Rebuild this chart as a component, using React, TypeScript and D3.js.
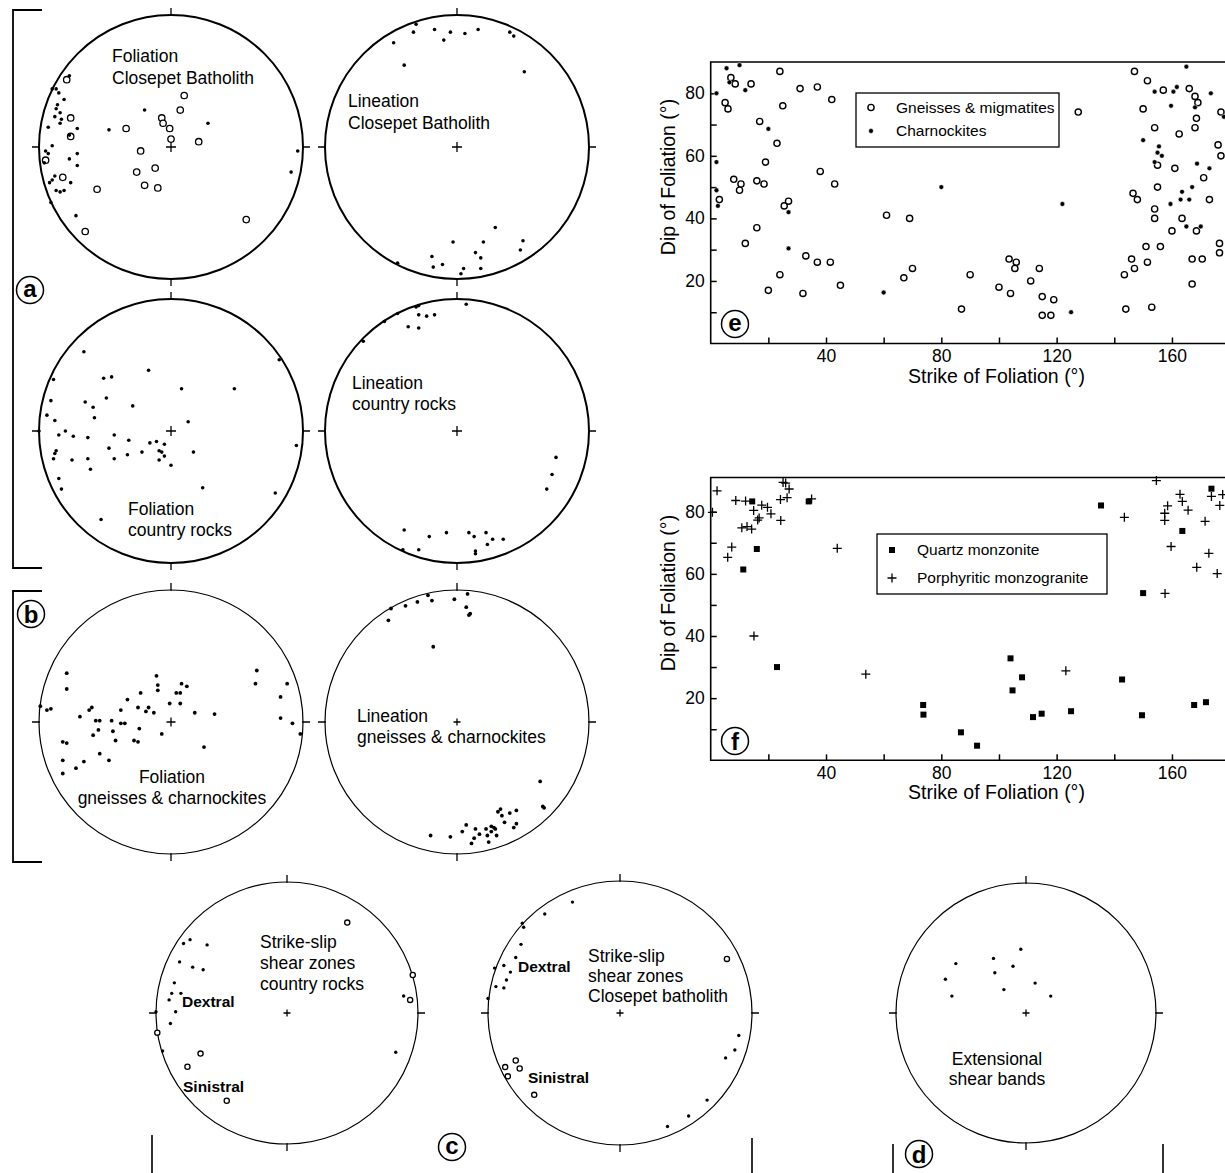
import React, { useEffect, useRef } from "react";
import * as d3 from "d3";

type Pt = [number, number];

const FONT = "'Liberation Sans', Arial, Helvetica, sans-serif";

// ---- stereonets: [east, north] of each pole in % of the primitive circle radius ----
const folClosepetOpen: Pt[] = [
  [-79, 51], [-76, 22], [-76, 8], [-95, -10], [-82, -23], [-56, -32], [-65, -64], [-34, 14], [-23, -3],
  [-26, -19], [-20, -29], [-12, -16], [-10, -31], [-7, 22], [-6, 18], [-1, 14], [0, 6], [7, 28], [10, 39],
  [21, 4], [57, -55],
];
const folClosepetDots: Pt[] = [
  [-77, 54], [-90, 44], [-87, 44], [-85, 41], [-81, 36], [-86, 32], [-87, 29], [-84, 26], [-88, 23],
  [-83, 21], [-84, 18], [-93, 15], [-71, 14], [-77, 9], [-90, 1], [-95, -3], [-93, -5], [-96, -12],
  [-71, -5], [-77, -9], [-71, -14], [-88, -22], [-92, -27], [-90, -25], [-76, -27], [-87, -33], [-84, -34],
  [-81, -33], [-91, -42], [-72, -52], [-47, 13], [-20, 28], [28, 18], [91, -19], [96, -3],
];
const linClosepet: Pt[] = [
  [-31, 93], [-33, 87], [-48, 79], [-17, 89], [-10, 81], [-5, 87], [6, 86], [16, 89], [40, 87], [43, 84],
  [-40, 62], [51, 57], [29, -61], [-3, -72], [20, -72], [50, -71], [48, -78], [-19, -83], [14, -80],
  [18, -84], [-45, -88], [-18, -91], [-11, -89], [5, -92], [18, -92], [3, -96],
];
const folCountry: Pt[] = [
  [-66, 60], [82, 54], [-89, 39], [-51, 40], [-45, 41], [-17, 46], [8, 32], [48, 32], [-91, 23], [-65, 22],
  [-49, 25], [-59, 18], [-29, 19], [-94, 12], [-88, 8], [-58, 10], [13, 7], [-100, 0], [-85, -3], [-80, 0],
  [-74, -4], [-63, -5], [-43, -3], [-32, -7], [-16, -9], [-11, -8], [-5, -10], [95, -11], [-47, -13],
  [-87, -15], [-88, -17], [-89, -21], [-75, -22], [-63, -21], [-43, -21], [-33, -18], [-22, -16], [-9, -15],
  [-7, -16], [-5, -19], [-9, -22], [17, -16], [0, -26], [-61, -29], [-85, -36], [-83, -44], [24, -43],
  [79, -47], [-53, -67],
];
const linCountry: Pt[] = [
  [7, 96], [-31, 94], [-29, 95], [-45, 89], [-55, 83], [-29, 88], [-23, 87], [-17, 88], [-37, 79], [-29, 78],
  [-71, 68], [75, -20], [72, -33], [68, -44], [-40, -75], [-21, -80], [-8, -77], [9, -77], [13, -80],
  [22, -77], [27, -82], [35, -82], [23, -86], [-41, -90], [-29, -90], [14, -91], [14, -93],
];
const folGneiss: Pt[] = [
  [-79, 37], [-79, 25], [-99, 12], [-94, 9], [-91, 10], [-69, 4], [-62, 9], [-60, 11], [-57, 1], [-54, 1],
  [-55, -6], [-59, -10], [-82, -15], [-79, -16], [-82, -29], [-72, -35], [-66, -30], [-54, -24], [-47, -29],
  [-82, -39], [-45, 1], [-44, -7], [-42, -14], [-38, 9], [-38, -1], [-35, -1], [-33, 17], [-25, 11],
  [-23, 22], [-24, -5], [-28, -14], [-25, -15], [-19, 8], [-17, 11], [-13, 7], [-11, 35], [-10, 28],
  [-10, 24], [-7, -9], [-1, 14], [4, 22], [7, 22], [7, 14], [8, 29], [12, 27], [18, 7], [33, 6], [25, -19],
  [65, 39], [64, 29], [88, 29], [83, 19], [83, 3], [92, -1], [98, -9],
];
const linGneiss: Pt[] = [
  [-22, 96], [-2, 93], [8, 97], [-50, 86], [-39, 88], [-30, 91], [-19, 92], [7, 87], [10, 82], [9, 81],
  [-52, 77], [-18, 57], [63, -45], [65, -64], [66, -65], [33, -66], [31, -68], [34, -71], [40, -69],
  [45, -67], [36, -76], [43, -80], [45, -77], [7, -78], [4, -83], [14, -81], [22, -81], [26, -79], [28, -80],
  [29, -81], [17, -85], [23, -86], [30, -86], [26, -83], [13, -88], [11, -92], [24, -91], [-5, -87],
  [-20, -86],
];
const ssCountryDextral: Pt[] = [
  [-79, 53], [-74, 56], [-61, 52], [-82, 39], [-72, 35], [-64, 33], [-86, 23], [-88, 15], [-81, 15],
  [-90, 10], [-85, 1], [-100, 1], [-89, -8], [-95, -29], [89, 13], [83, -30],
];
const ssCountrySinistral: Pt[] = [
  [46, 69], [96, 29], [94, 10], [-99, -15], [-66, -31], [-76, -41], [-46, -67],
];
const ssClosepetDextral: Pt[] = [
  [-36, 84], [-57, 75], [-74, 68], [-73, 65], [-75, 52], [-79, 42], [-95, 34], [-88, 36], [-83, 31],
  [-86, 25], [-94, 20], [-88, 19], [-100, 11], [90, -17], [87, -28], [80, -34], [66, -66], [52, -78],
  [36, -86],
];
const ssClosepetSinistral: Pt[] = [
  [81, 41], [-79, -36], [-87, -41], [-76, -42], [-85, -48], [-65, -62],
];
const extShearBands: Pt[] = [
  [-4, 49], [-25, 42], [-54, 38], [-10, 36], [-24, 31], [-62, 26], [7, 23], [-17, 18], [-57, 13], [19, 13],
];

// ---- strike / dip diagrams: [strike °, dip °] ----
const gneissesMigmatites: Pt[] = [
  [3, 46], [5, 77], [6, 75], [7, 85], [8.5, 83], [8, 52.5], [10.5, 51], [10, 49], [12, 32], [14, 83], [16, 37],
  [16, 52], [17, 71], [18.5, 51], [19, 58], [20, 17], [23, 64], [24, 22], [24, 87], [25, 76], [25.5, 44],
  [27, 45.5], [31, 81.5], [32, 16], [33, 28], [37, 26], [37, 82], [38, 55], [41.5, 26], [42, 78], [43, 51],
  [45, 18.6], [61, 41], [67, 21], [69, 40], [70, 24], [87, 11], [90, 22], [100, 18], [104, 16], [103.5, 27],
  [106, 26], [105.5, 24], [111, 20], [114, 24], [115, 15], [115, 9], [118, 9], [119, 14], [127.5, 74],
  [143.5, 22], [144, 11], [146, 27], [146.5, 48], [147, 87], [147, 24], [148, 46], [150, 75], [151, 31],
  [151.5, 84], [151.5, 26], [153, 11.6], [154, 69], [154, 43], [154, 40], [155, 57], [155, 50], [156, 31],
  [157, 81], [160, 36], [161, 56], [162.5, 67], [163.5, 40], [166, 81.5], [167, 27], [167, 19], [168, 69],
  [168, 79], [168.5, 72], [169, 77], [168.5, 36], [170.5, 27], [171, 53], [173, 46], [176, 63.5], [176.5, 32],
  [176.5, 29], [177, 74], [177, 60],
];
const charnockites: Pt[] = [
  [2, 80], [2, 58], [2, 49], [2.5, 44], [5.5, 88], [6.5, 83.5], [10, 89], [12, 81], [20, 68.6], [27, 42],
  [27, 30.4], [60, 16.3], [80, 50], [122, 44.6], [125, 10], [165, 88.5], [161.7, 82], [154, 80.5],
  [160.5, 80.5], [173.5, 80], [159.7, 76], [168, 75.5], [178, 72.5], [150, 65], [155.5, 63], [155, 61],
  [156.5, 60], [154, 58], [168.7, 57.5], [173, 56], [167, 50], [163.5, 48.5], [163, 46], [166, 46],
  [159.5, 44.6], [165, 37.4], [170, 37.4],
];
const quartzMonzonite: Pt[] = [
  [14.4, 83.3], [16, 68], [11.3, 61.4], [23, 30], [34, 83.3], [73.7, 17.8], [73.8, 14.7], [86.8, 9],
  [92.4, 4.7], [104, 32.8], [104.7, 22.5], [108, 26.7], [111.8, 13.9], [114.8, 15], [125, 15.8], [135.4, 82],
  [142.7, 26], [150, 53.8], [149.6, 14.5], [163.6, 73.8], [167.7, 17.8], [171.8, 18.7], [173.7, 87.4],
];
const porphyriticMonzogranite: Pt[] = [
  [2.2, 86.7], [0.6, 79.8], [5.9, 65.3], [7.3, 68.6], [8.7, 83.6], [12.1, 83.4], [10.8, 74.8], [12.6, 75.2],
  [14.2, 74.4], [14.9, 80.4], [16.3, 77.3], [16.8, 78], [17.7, 82.1], [19.7, 81.4], [20.9, 79.3], [24.3, 77.2],
  [24.2, 83.9], [25.1, 89.4], [26, 89.2], [26.5, 84.5], [27.2, 87.3], [35, 84.1], [43.9, 68.2], [15, 40],
  [53.8, 27.7], [123.2, 28.8], [143.5, 78.2], [154.6, 90], [157.5, 77.2], [157.5, 79.5], [158.5, 81.9],
  [159.7, 68.8], [157.6, 53.7], [162.8, 85.6], [163.6, 83.3], [165.6, 80.5], [168.6, 62.1], [171.5, 76.9],
  [172.8, 66.6], [173.7, 84.9], [175.7, 60.1], [176.6, 82], [177.6, 85.5],
];

const strikeTicks = [20, 40, 60, 80, 100, 120, 140, 160];
const strikeLabels = [40, 80, 120, 160];
const dipTicks = [10, 20, 30, 40, 50, 60, 70, 80];
const dipLabels = [20, 40, 60, 80];

// ---- layout ----
type Net = {
  cx: number; cy: number; r: number; heavy?: boolean; dots: Pt[]; open?: Pt[];
  lines: string[]; tx: number; ty: number; lh: number; anchor?: string; cross: number; dotR: number;
  bold?: [string, number, number][];
};

const nets: Net[] = [
  { cx: 171, cy: 147, r: 132, heavy: true, dots: folClosepetDots, open: folClosepetOpen, lines: ["Foliation", "Closepet Batholith"], tx: 112, ty: 62, lh: 21.5, cross: 5, dotR: 1.8 },
  { cx: 457, cy: 147, r: 132, heavy: true, dots: linClosepet, lines: ["Lineation", "Closepet Batholith"], tx: 348, ty: 107, lh: 21.5, cross: 5, dotR: 1.8 },
  { cx: 171, cy: 431, r: 132, heavy: true, dots: folCountry, lines: ["Foliation", "country rocks"], tx: 128, ty: 515, lh: 20.5, cross: 5, dotR: 1.8 },
  { cx: 457, cy: 431, r: 132, heavy: true, dots: linCountry, lines: ["Lineation", "country rocks"], tx: 352, ty: 389, lh: 20.5, cross: 5, dotR: 1.8 },
  { cx: 171, cy: 722, r: 132, dots: folGneiss, lines: ["Foliation", "gneisses & charnockites"], tx: 172, ty: 783, lh: 21, anchor: "middle", cross: 4.5, dotR: 1.9 },
  { cx: 457, cy: 722, r: 132, dots: linGneiss, lines: ["Lineation", "gneisses & charnockites"], tx: 357, ty: 722, lh: 20.5, cross: 3.5, dotR: 1.9 },
  { cx: 287, cy: 1013, r: 131, dots: ssCountryDextral, open: ssCountrySinistral, lines: ["Strike-slip", "shear zones", "country rocks"], tx: 260, ty: 948, lh: 21, cross: 3.5, dotR: 1.7, bold: [["Dextral", 182, 1007], ["Sinistral", 183, 1092]] },
  { cx: 620, cy: 1013, r: 132, dots: ssClosepetDextral, open: ssClosepetSinistral, lines: ["Strike-slip", "shear zones", "Closepet batholith"], tx: 588, ty: 962, lh: 20, cross: 3.5, dotR: 1.7, bold: [["Dextral", 518, 972], ["Sinistral", 528, 1083]] },
  { cx: 1026, cy: 1013, r: 130, dots: extShearBands, lines: ["Extensional", "shear bands"], tx: 997, ty: 1065, lh: 20, anchor: "middle", cross: 3.5, dotR: 1.7 },
];

const letters: [string, number, number][] = [
  ["a", 30, 290], ["b", 31, 614], ["c", 452, 1147], ["d", 919, 1154], ["e", 735, 324], ["f", 735, 741],
];

function Stereonet({ n }: { n: Net }) {
  const x = d3.scaleLinear().domain([-100, 100]).range([n.cx - n.r, n.cx + n.r]);
  const y = d3.scaleLinear().domain([-100, 100]).range([n.cy + n.r, n.cy - n.r]);
  const t = 7;
  const ticks =
    `M${x(0)},${y(100) + 1}V${y(100) - t}M${x(0)},${y(-100) - 1}V${y(-100) + t}` +
    `M${x(-100) + 1},${y(0)}H${x(-100) - t}M${x(100) - 1},${y(0)}H${x(100) + t}`;
  const cross = `M${x(0) - n.cross},${y(0)}H${x(0) + n.cross}M${x(0)},${y(0) - n.cross}V${y(0) + n.cross}`;
  return (
    <g>
      <circle cx={x(0)} cy={y(0)} r={n.r} fill="none" stroke="#000" strokeWidth={n.heavy ? 2 : 1.2} />
      <path d={ticks} stroke="#000" strokeWidth={1.3} />
      <path d={cross} stroke="#000" strokeWidth={1.3} />
      <text x={n.tx} y={n.ty} fontSize={17.5} fontFamily={FONT} textAnchor={n.anchor || "start"}>
        {n.lines.map((l, i) => (
          <tspan key={i} x={n.tx} y={n.ty + i * n.lh}>{l}</tspan>
        ))}
      </text>
      {(n.bold || []).map(([s, bx, by]) => (
        <text key={s} x={bx} y={by} fontSize={15.5} fontWeight="bold" fontFamily={FONT}>{s}</text>
      ))}
      {(n.open || []).map(([e, no], i) => (
        <circle key={"o" + i} cx={x(e)} cy={y(no)} r={n.heavy ? 3.2 : 2.6} fill="#fff" stroke="#000" strokeWidth={1.3} />
      ))}
      {n.dots.map(([e, no], i) => (
        <circle key={"d" + i} cx={x(e)} cy={y(no)} r={n.dotR} fill="#000" />
      ))}
    </g>
  );
}

type Panel = {
  top: number; bottom: number; left: number; right: number; dipMax: number;
  titleY: number; dipTitleY: number;
  legend: { x: number; y: number; w: number; h: number; rows: [string, number][] };
  kind: "e" | "f";
};

const panels: Panel[] = [
  { kind: "e", top: 62, bottom: 343.5, left: 710.7, right: 1229.6, dipMax: 90, titleY: 383, dipTitleY: 177,
    legend: { x: 856, y: 93, w: 203, h: 54, rows: [["Gneisses & migmatites", 107.5], ["Charnockites", 131]] } },
  { kind: "f", top: 477.5, bottom: 760.3, left: 710.7, right: 1229.6, dipMax: 91, titleY: 799, dipTitleY: 593,
    legend: { x: 877, y: 534, w: 230, h: 60, rows: [["Quartz monzonite", 550], ["Porphyritic monzogranite", 578]] } },
];

function Marker({ kind, which, cx, cy }: { kind: string; which: number; cx: number; cy: number }) {
  if (kind === "e") {
    return which === 0 ? (
      <circle cx={cx} cy={cy} r={3.1} fill="#fff" stroke="#000" strokeWidth={1.4} />
    ) : (
      <circle cx={cx} cy={cy} r={2.4} fill="#000" stroke="#fff" strokeWidth={0.5} />
    );
  }
  return which === 0 ? (
    <rect x={cx - 3} y={cy - 3} width={6} height={6} fill="#000" />
  ) : (
    <path d={`M${cx - 4.5},${cy}H${cx + 4.5}M${cx},${cy - 4.5}V${cy + 4.5}`} stroke="#000" strokeWidth={1.3} />
  );
}

function ScatterPanel({ p }: { p: Panel }) {
  const xAxisRef = useRef<SVGGElement>(null);
  const yAxisRef = useRef<SVGGElement>(null);
  const x = d3.scaleLinear().domain([0, 180]).range([p.left, p.right]);
  const y = d3.scaleLinear().domain([0, p.dipMax]).range([p.bottom, p.top]);
  const series: Pt[][] = p.kind === "e" ? [gneissesMigmatites, charnockites] : [quartzMonzonite, porphyriticMonzogranite];

  useEffect(() => {
    const gx = d3.select(xAxisRef.current as SVGGElement);
    gx.call(
      d3.axisBottom(x).tickValues(strikeTicks).tickSizeInner(-6).tickSizeOuter(0).tickPadding(6)
        .tickFormat((d) => (strikeLabels.includes(+d) ? String(d) : "")) as any
    );
    gx.select(".domain").remove();
    gx.attr("font-family", FONT).attr("font-size", 17.5);
    gx.selectAll(".tick line").attr("stroke-width", 1.5);

    const gy = d3.select(yAxisRef.current as SVGGElement);
    gy.call(
      d3.axisLeft(y).tickValues(dipTicks).tickSizeInner(-6).tickSizeOuter(0).tickPadding(6)
        .tickFormat((d) => (dipLabels.includes(+d) ? String(d) : "")) as any
    );
    gy.select(".domain").remove();
    gy.attr("font-family", FONT).attr("font-size", 17.5);
    gy.selectAll(".tick line").attr("stroke-width", 1.5);
  }, []);

  const lg = p.legend;
  return (
    <g>
      <g ref={xAxisRef} transform={`translate(0,${y(0)})`} />
      <g ref={yAxisRef} transform={`translate(${x(0)},0)`} />
      <path d={`M${x(180) + 5},${y(p.dipMax)}H${x(0)}V${y(0)}H${x(180) + 5}`} fill="none" stroke="#000" strokeWidth={1.6} />
      <text x={996.5} y={p.titleY} fontSize={19.5} fontFamily={FONT} textAnchor="middle">Strike of Foliation (°)</text>
      <text transform={`translate(675,${p.dipTitleY}) rotate(-90)`} fontSize={19.5} fontFamily={FONT} textAnchor="middle">Dip of Foliation (°)</text>
      {series.map((s, si) =>
        s.map(([st, dp], i) => <Marker key={si + "-" + i} kind={p.kind} which={si} cx={x(st)} cy={y(dp)} />)
      )}
      <rect x={lg.x} y={lg.y} width={lg.w} height={lg.h} fill="#fff" stroke="#000" strokeWidth={1.3} />
      {lg.rows.map(([label, ry], i) => (
        <g key={label}>
          <Marker kind={p.kind} which={i} cx={lg.x + 15} cy={ry} />
          <text x={lg.x + 40} y={ry + 5.2} fontSize={15.5} fontFamily={FONT}>{label}</text>
        </g>
      ))}
    </g>
  );
}

export default function App() {
  return (
    <div style={{ position: "absolute", left: 0, top: 0, background: "#fff" }}>
      <svg width={1225} height={1173} style={{ display: "block" }}>
        <rect width={1225} height={1173} fill="#fff" />
        <path d="M42,10H13V568H42M42,591H13V862H42" fill="none" stroke="#000" strokeWidth={1.8} />
        <path d="M152,1135V1173M752,1138V1173M893,1144V1173M1163,1144V1173" fill="none" stroke="#000" strokeWidth={1.6} />
        {nets.map((n, i) => <Stereonet key={i} n={n} />)}
        {panels.map((p) => <ScatterPanel key={p.kind} p={p} />)}
        {letters.map(([l, lx, ly]) => (
          <g key={l}>
            <circle cx={lx} cy={ly} r={13.5} fill="#fff" stroke="#000" strokeWidth={1.5} />
            <text x={lx} y={ly + ("bdf".includes(l) ? 8.5 : 7)} fontSize={24} fontWeight="bold" fontFamily={FONT} textAnchor="middle">{l}</text>
          </g>
        ))}
      </svg>
    </div>
  );
}
